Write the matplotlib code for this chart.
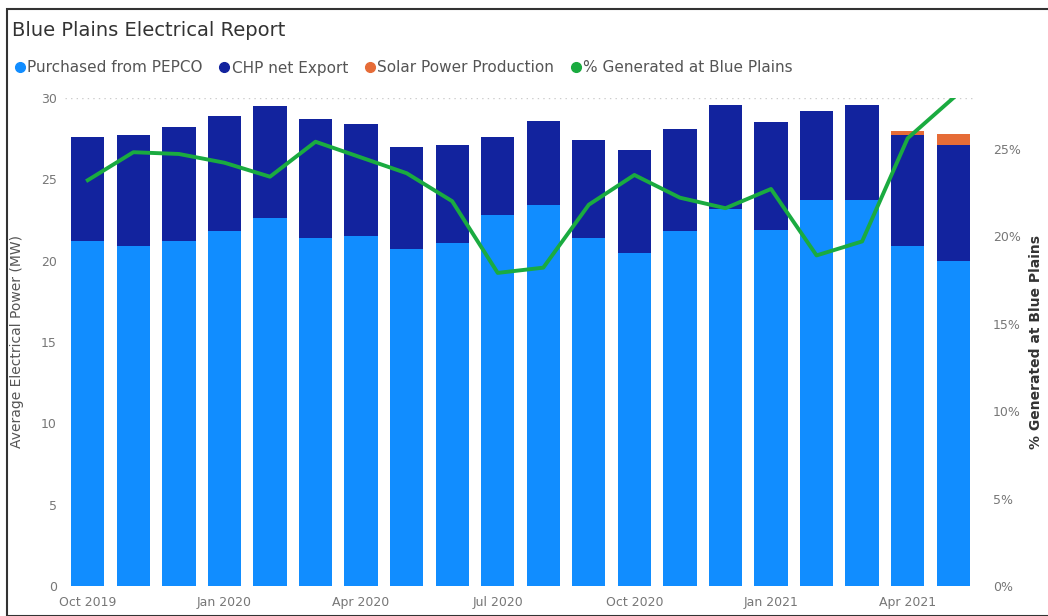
import matplotlib
matplotlib.use("Agg")
import matplotlib.pyplot as plt
from matplotlib.lines import Line2D
from matplotlib.patches import Rectangle
from matplotlib.ticker import FuncFormatter

plt.rcParams['font.family'] = ['DejaVu Sans']

# data
months = ['Oct 2019', 'Nov 2019', 'Dec 2019', 'Jan 2020', 'Feb 2020', 'Mar 2020',
          'Apr 2020', 'May 2020', 'Jun 2020', 'Jul 2020', 'Aug 2020', 'Sep 2020',
          'Oct 2020', 'Nov 2020', 'Dec 2020', 'Jan 2021', 'Feb 2021', 'Mar 2021',
          'Apr 2021', 'May 2021']
purchased = [21.2, 20.9, 21.2, 21.8, 22.6, 21.4, 21.5, 20.7, 21.1, 22.8,
             23.4, 21.4, 20.5, 21.8, 23.2, 21.9, 23.7, 23.7, 20.9, 20.0]
chp_total = [27.6, 27.7, 28.2, 28.9, 29.5, 28.7, 28.4, 27.0, 27.1, 27.6,
             28.6, 27.4, 26.8, 28.1, 29.6, 28.5, 29.2, 29.6, 27.7, 27.1]
chp = [round(t - p, 2) for t, p in zip(chp_total, purchased)]
solar = [0, 0, 0, 0, 0, 0, 0, 0, 0, 0, 0, 0, 0, 0, 0, 0, 0, 0, 0.3, 0.7]
pct_generated = [23.2, 24.8, 24.7, 24.2, 23.4, 25.4, 24.5, 23.6, 22.0, 17.9,
                 18.2, 21.8, 23.5, 22.2, 21.6, 22.7, 18.9, 19.7, 25.6, 27.9]
tick_labels = ['Oct 2019', 'Jan 2020', 'Apr 2020', 'Jul 2020', 'Oct 2020', 'Jan 2021', 'Apr 2021']

C_PURCH = '#118DFF'
C_CHP = '#12239E'
C_SOLAR = '#E66C37'
C_PCT = '#1AAB40'
GRAY = '#777777'

W, H = 1048, 616
fig = plt.figure(figsize=(W / 100, H / 100), dpi=100)
ax = fig.add_axes([65 / W, (H - 586) / H, (976 - 65) / W, (586 - 98) / H])

x = list(range(len(months)))
bw = 0.73
ax.bar(x, purchased, width=bw, color=C_PURCH, zorder=2)
ax.bar(x, chp, width=bw, bottom=purchased, color=C_CHP, zorder=2)
ax.bar(x, solar, width=bw, bottom=chp_total, color=C_SOLAR, zorder=2)

ax.set_xlim(-0.5, len(months) - 0.5)
ax.set_ylim(0, 30)
ax.set_yticks([0, 5, 10, 15, 20, 25, 30])
ax.axhline(30, color='#cccccc', linestyle=(0, (1, 3)), linewidth=1, zorder=1)
ax.set_xticks([months.index(t) for t in tick_labels])
ax.set_xticklabels(tick_labels)
ax.tick_params(length=0, labelsize=9, colors=GRAY, pad=6)
ax.tick_params(axis='x', pad=7)
ax.set_ylabel('Average Electrical Power (MW)', fontsize=10, color='#555555', labelpad=12)
for s in ax.spines.values():
    s.set_visible(False)

ax2 = ax.twinx()
ax2.plot(x, pct_generated, color=C_PCT, linewidth=2.8, zorder=3)
ax2.set_ylim(0, 27.9)
ax2.set_yticks([0, 5, 10, 15, 20, 25])
ax2.yaxis.set_major_formatter(FuncFormatter(lambda v, p: f'{int(v)}%'))
ax2.tick_params(length=0, labelsize=9, colors=GRAY, pad=12)
ax2.set_ylabel('% Generated at Blue Plains', fontsize=10, color='#333333',
               labelpad=6, fontweight='semibold')
for s in ax2.spines.values():
    s.set_visible(False)

fig.text(12 / W, 1 - 30 / H, 'Blue Plains Electrical Report', fontsize=14,
         color='#333333', va='center', ha='left')

handles = [Line2D([], [], marker='o', linestyle='', markersize=7, color=c)
           for c in (C_PURCH, C_CHP, C_SOLAR, C_PCT)]
names = ['Purchased from PEPCO', 'CHP net Export', 'Solar Power Production',
         '% Generated at Blue Plains']
leg = fig.legend(handles, names, loc='center left', bbox_to_anchor=(6 / W, 1 - 68 / H),
                 ncol=4, frameon=False, fontsize=11, handletextpad=0.0,
                 columnspacing=0.9, handlelength=1.0, borderaxespad=0)
for t in leg.get_texts():
    t.set_color('#555555')

fig.patches.append(Rectangle((7 / W, 0), 1.2, 1 - 9 / H, transform=fig.transFigure,
                             fill=False, edgecolor='#333333', linewidth=1.5))

fig.savefig('out.png', dpi=100)
